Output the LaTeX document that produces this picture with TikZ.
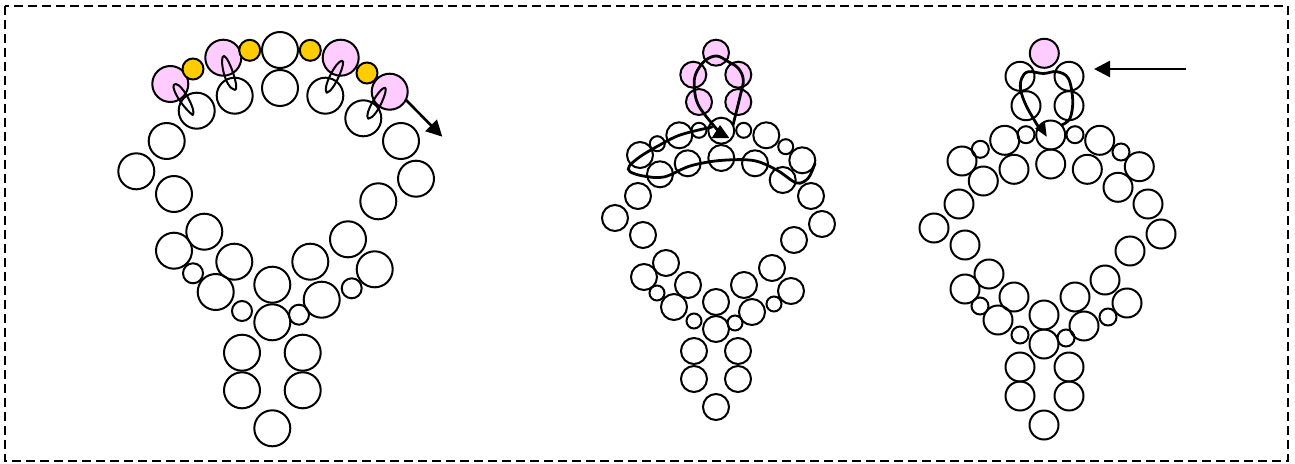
\documentclass[tikz,border=0pt]{standalone}
\usetikzlibrary{arrows.meta}
\definecolor{pinkf}{RGB}{255,204,255}
\definecolor{goldf}{RGB}{255,204,0}
\tikzset{
  ring/.style={draw=black,line width=2pt},
  loopline/.style={draw=black,line width=2pt,line join=round},
  curveline/.style={draw=black,line width=2.8pt,line cap=round},
  pointer/.style={draw=black,line width=2.6pt,-{Triangle[length=16pt,width=16pt]}},
  headtri/.style={fill=black,draw=none},
  frameline/.style={draw=black,line width=2.4pt,dash pattern=on 9pt off 5pt},
}
\newcommand{\rings}[2]{\foreach \px/\py in {#2}{\draw[ring] (\px,\py) circle (#1pt);}}
\begin{document}
\begin{tikzpicture}[x=1pt,y=-1pt]
\useasboundingbox (0,0) rectangle (1295,463);
\draw[frameline] (5,6) rectangle (1288,461);
% left figure
\rings{18}{280/50,280/88,234.7/95.7,325.3/95.7,196.7/110.7,363.3/118.3,166.7/141,401/141,136.3/171.3,174/194,416/178.7,378.3/201.3,204.3/231.7,174/250.7,348/239.3,374.7/269.3,234.3/261.7,310.3/261.7,215.7/292,321.7/299.7,272.3/284.7,272.3/322.3,242/352.7,302.7/352.7,242/390.3,302.7/390.3,272.3/428.3}
\rings{10}{193/273.3,242/311,299/314.7,351.7/288.3}
\foreach \px/\py in {170.3/84,223.3/57.7,340.7/57.7,389.7/91.7}{\draw[ring,fill=pinkf] (\px,\py) circle (18pt);}
\foreach \px/\py in {193/69,249.7/50.3,310.3/50.3,367/73}{\draw[ring,fill=goldf] (\px,\py) circle (10.5pt);}
\draw[loopline] (192.7,115) .. controls (180,105) and (168,83) .. (176,84) .. controls (183,85) and (197,112) .. cycle;
\draw[loopline] (235,90) .. controls (224,88) and (219,55) .. (224,56) .. controls (229,57) and (240,90) .. cycle;
\draw[loopline] (326.7,92.7) .. controls (322,88) and (336,61) .. (342,60.7) .. controls (347,60) and (334,92) .. cycle;
\draw[loopline] (368.3,118.7) .. controls (363,115) and (380,87) .. (385,87.7) .. controls (389,88) and (377,118) .. cycle;
\coordinate (aS) at (406,100); \coordinate (aE) at (442.3,136.7);
\draw[pointer] (aS) -- (aE);
% middle figure
\rings{13}{721.3/130.7,679.3/135.3,766.3/135.3,640/155,802.3/160.3,687.7/163.3,721.3/158,755/163.3,660/174.3,782.7/180,638/196,811/196,615/218,822/224,643/235,794/240,666/263,644/277,772/268,744/285,688/285,791/291,716/302,674/307,752/312,716/329,694/351,738/351,694/379,738/379,716/407}
\rings{7.5}{699/130.3,743.7/130.3,657.3/143.7,785.7/146.7,657/293,694/321,735/323,774/304}
\foreach \px/\py in {716/52.7,693.3/74.7,738.3/74.7,699/102,738.3/102}{\draw[ring,fill=pinkf] (\px,\py) circle (13pt);}
\draw[curveline] plot[smooth,tension=.6] coordinates {(733,125)(740,96.7)(743.3,80)(738.3,68.3)(728.3,61.7)(716.7,56)(705,60.7)(696,73.3)(694.3,86.7)(698.3,105)(714,126)(719,131)};
\draw[curveline] plot[smooth,tension=.55] coordinates {(712,127)(680,135)(656.7,146.7)(640,156.7)(629.3,166)(630,171.7)(643.3,176)(664,177)(690,166)(720,160.5)(753.3,160.5)(776.7,170)(796.7,183)(808.3,178)(815,163.3)};
\fill[headtri] (720,125) -- (711.7,138) -- (729.3,138) -- cycle;
% right figure
\rings{14.5}{1020/76.3,1069/76.3,1026/105.7,1069/105.7,1050.7/135,1004.7/140.3,1099.7/140.3,962/161,1139.3/166.7,1014/169.3,1050.7/164,1087.3/169.3,983.3/181,1118/187.3,959/204,1148/204,934/228,1161/234,965/245,1130/251,989/274,965/289,1105/280,1014/297,1075/297,1127/303,1044/315,998/320,1084/326,1044/344,1020/367,1069/367,1020/396,1069/396,1044/425}
\rings{8.5}{1026/134.7,1075/134.7,980.3/149.3,1121/152,980/306,1020/335,1066/338,1108/317}
\draw[ring,fill=pinkf] (1044.3,53.3) circle (14.5pt);
\draw[curveline] plot[smooth,tension=.6] coordinates {(1061.7,125)(1070,118.3)(1072.7,100)(1068.3,78.3)(1056.7,71.7)(1043.3,73.5)(1028.3,71.7)(1021.7,78.3)(1020.7,90)(1026.7,106.7)(1039.3,128.3)};
\fill[headtri] (1046.7,136.7) -- (1035,128.3) -- (1045,122.7) -- cycle;
\coordinate (bS) at (1186,69); \coordinate (bE) at (1094,69);
\draw[pointer] (bS) -- (bE);
\end{tikzpicture}
\end{document}
